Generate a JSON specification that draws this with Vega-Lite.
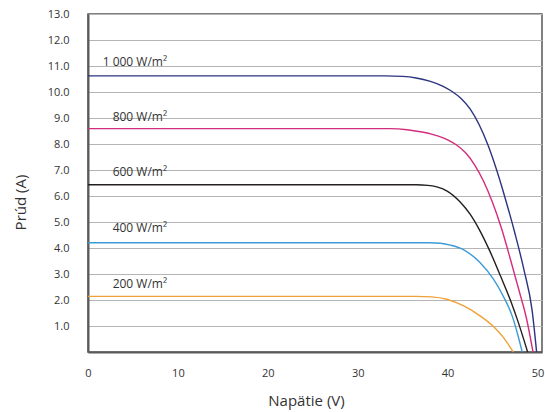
{
  "$schema": "https://vega.github.io/schema/vega-lite/v6.json",
  "autosize": {"type": "none"},
  "padding": {"left": 88, "top": 14, "right": 3, "bottom": 60},
  "width": 454,
  "height": 338,
  "background": "white",
  "config": {
    "font": "Open Sans",
    "view": {"stroke": "#555555", "strokeWidth": 1.5},
    "axis": {
      "labelColor": "#333333",
      "labelFontSize": 11,
      "titleColor": "#333333",
      "titleFontSize": 15,
      "titleFontWeight": "normal",
      "domainColor": "#5a5a5a",
      "domainWidth": 2,
      "ticks": false,
      "labelFlush": false,
      "labelOverlap": false
    }
  },
  "datasets": {
    "curves": [
      {"series": "1000", "V": 0, "I": 10.62},
      {"series": "1000", "V": 33, "I": 10.62},
      {"series": "1000", "V": 35, "I": 10.6},
      {"series": "1000", "V": 36.5, "I": 10.54},
      {"series": "1000", "V": 38, "I": 10.42},
      {"series": "1000", "V": 39.5, "I": 10.22},
      {"series": "1000", "V": 40.5, "I": 10.02},
      {"series": "1000", "V": 41.5, "I": 9.75},
      {"series": "1000", "V": 42.5, "I": 9.35},
      {"series": "1000", "V": 43.5, "I": 8.75},
      {"series": "1000", "V": 44.5, "I": 7.95},
      {"series": "1000", "V": 45.5, "I": 6.95},
      {"series": "1000", "V": 46.5, "I": 5.8},
      {"series": "1000", "V": 47.5, "I": 4.55},
      {"series": "1000", "V": 48.5, "I": 3.15},
      {"series": "1000", "V": 49.4, "I": 1.6},
      {"series": "1000", "V": 49.9, "I": 0},
      {"series": "800", "V": 0, "I": 8.59},
      {"series": "800", "V": 33.5, "I": 8.59},
      {"series": "800", "V": 35.5, "I": 8.55},
      {"series": "800", "V": 37, "I": 8.47},
      {"series": "800", "V": 38.5, "I": 8.35},
      {"series": "800", "V": 40, "I": 8.16},
      {"series": "800", "V": 41, "I": 7.96},
      {"series": "800", "V": 42, "I": 7.66},
      {"series": "800", "V": 43, "I": 7.2},
      {"series": "800", "V": 44, "I": 6.57},
      {"series": "800", "V": 45, "I": 5.75},
      {"series": "800", "V": 46, "I": 4.75},
      {"series": "800", "V": 47, "I": 3.55},
      {"series": "800", "V": 48, "I": 2.3},
      {"series": "800", "V": 48.8, "I": 1.25},
      {"series": "800", "V": 49.5, "I": 0},
      {"series": "600", "V": 0, "I": 6.43},
      {"series": "600", "V": 36.5, "I": 6.43},
      {"series": "600", "V": 37.8, "I": 6.41},
      {"series": "600", "V": 38.8, "I": 6.35},
      {"series": "600", "V": 39.9, "I": 6.2},
      {"series": "600", "V": 41.4, "I": 5.77},
      {"series": "600", "V": 42.5, "I": 5.3},
      {"series": "600", "V": 43.6, "I": 4.66},
      {"series": "600", "V": 44.7, "I": 3.88},
      {"series": "600", "V": 45.9, "I": 2.91},
      {"series": "600", "V": 47.0, "I": 1.98},
      {"series": "600", "V": 47.9, "I": 1.1},
      {"series": "600", "V": 48.9, "I": 0},
      {"series": "400", "V": 0, "I": 4.2},
      {"series": "400", "V": 38, "I": 4.2},
      {"series": "400", "V": 39.2, "I": 4.18},
      {"series": "400", "V": 40.3, "I": 4.11},
      {"series": "400", "V": 41.8, "I": 3.93},
      {"series": "400", "V": 43.6, "I": 3.44},
      {"series": "400", "V": 45.1, "I": 2.8},
      {"series": "400", "V": 46.2, "I": 2.14},
      {"series": "400", "V": 47.2, "I": 1.37},
      {"series": "400", "V": 47.7, "I": 0.8},
      {"series": "400", "V": 48.3, "I": 0},
      {"series": "200", "V": 0, "I": 2.14},
      {"series": "200", "V": 36.5, "I": 2.14},
      {"series": "200", "V": 38.2, "I": 2.12},
      {"series": "200", "V": 39.9, "I": 2.03},
      {"series": "200", "V": 41.8, "I": 1.77},
      {"series": "200", "V": 43.6, "I": 1.39},
      {"series": "200", "V": 45.1, "I": 0.98},
      {"series": "200", "V": 46.2, "I": 0.56},
      {"series": "200", "V": 47.3, "I": 0}
    ],
    "labels": [
      {"series": "1000", "V": 8.8, "I": 10.99, "label": "1 000 W/m²"},
      {"series": "800", "V": 8.8, "I": 8.87, "label": "800 W/m²"},
      {"series": "600", "V": 8.8, "I": 6.77, "label": "600 W/m²"},
      {"series": "400", "V": 8.8, "I": 4.62, "label": "400 W/m²"},
      {"series": "200", "V": 8.8, "I": 2.45, "label": "200 W/m²"}
    ]
  },
  "layer": [
    {
      "data": {"name": "curves"},
      "mark": {"type": "line", "interpolate": "monotone", "strokeWidth": 1.4},
      "encoding": {
        "x": {
          "field": "V",
          "type": "quantitative",
          "scale": {"domain": [0, 50.5], "nice": false, "zero": false},
          "axis": {
            "values": [0, 10, 20, 30, 40, 50],
            "tickCount": 6,
            "grid": false,
            "labelPadding": 15,
            "title": "Napätie (V)",
            "titleX": 218,
            "titleY": 41,
            "titleBaseline": "top"
          }
        },
        "y": {
          "field": "I",
          "type": "quantitative",
          "scale": {"domain": [0, 13], "nice": false},
          "axis": {
            "values": [1, 2, 3, 4, 5, 6, 7, 8, 9, 10, 11, 12, 13],
            "tickCount": 13,
            "format": ".1f",
            "grid": true,
            "gridColor": "#b5b5b5",
            "gridWidth": 1,
            "labelPadding": 19,
            "labelOverlap": false,
            "title": "Prúd (A)",
            "titleX": -60,
            "titleY": 188
          }
        },
        "color": {
          "field": "series",
          "type": "nominal",
          "scale": {
            "domain": ["1000", "800", "600", "400", "200"],
            "range": ["#2b3480", "#d42c7c", "#231f20", "#3b9bd6", "#f0a136"]
          },
          "legend": null
        }
      }
    },
    {
      "data": {"name": "labels"},
      "mark": {"type": "text", "align": "right", "baseline": "alphabetic", "fontSize": 12, "color": "#333333"},
      "encoding": {
        "x": {"field": "V", "type": "quantitative"},
        "y": {"field": "I", "type": "quantitative"},
        "text": {"field": "label"}
      }
    }
  ]
}
